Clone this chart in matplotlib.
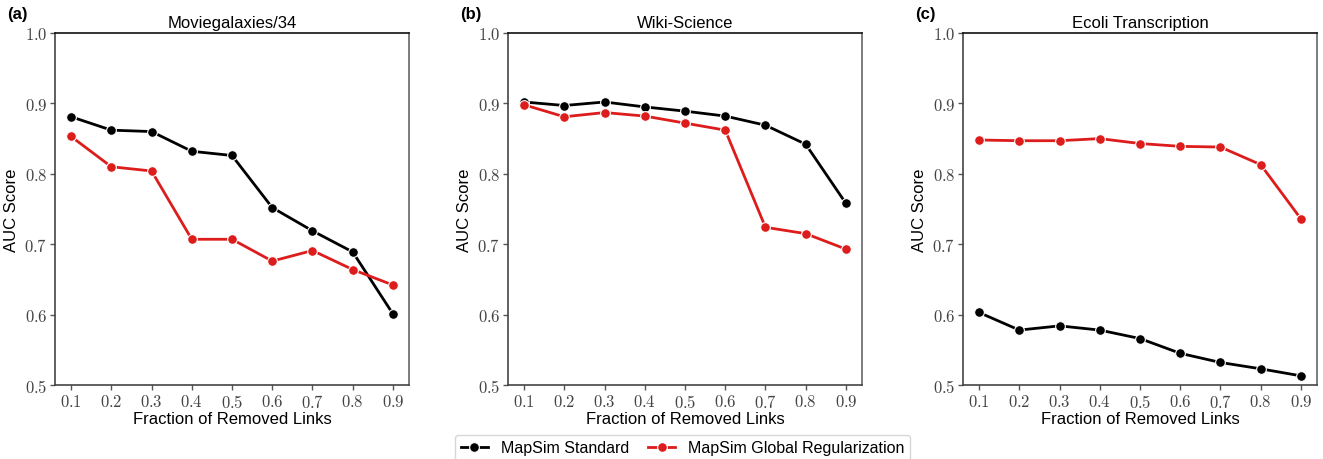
import numpy as np
import matplotlib
matplotlib.use("Agg")
import matplotlib.pyplot as plt

plt.rcParams['font.family'] = ['Liberation Sans', 'DejaVu Sans']
plt.rcParams['mathtext.fontset'] = 'cm'

fractions = [0.1, 0.2, 0.3, 0.4, 0.5, 0.6, 0.7, 0.8, 0.9]
titles = ["Moviegalaxies/34", "Wiki-Science", "Ecoli Transcription"]
panel_labels = ["(a)", "(b)", "(c)"]

standard_a = [0.881, 0.862, 0.860, 0.832, 0.826, 0.752, 0.719, 0.689, 0.601]
regular_a = [0.853, 0.810, 0.804, 0.707, 0.707, 0.676, 0.691, 0.664, 0.642]
standard_b = [0.902, 0.897, 0.902, 0.895, 0.889, 0.882, 0.869, 0.842, 0.758]
regular_b = [0.898, 0.881, 0.887, 0.882, 0.872, 0.862, 0.724, 0.715, 0.693]
standard_c = [0.603, 0.578, 0.584, 0.578, 0.566, 0.545, 0.532, 0.523, 0.513]
regular_c = [0.848, 0.847, 0.847, 0.850, 0.843, 0.839, 0.838, 0.813, 0.736]

standard = [standard_a, standard_b, standard_c]
regular = [regular_a, regular_b, regular_c]

black = '#000000'
red = '#dd1c1c'

fig = plt.figure(figsize=(13.23, 4.6), dpi=100)
lefts = [55, 508, 963]
W, H = 1323, 460
for i in range(3):
    ax = fig.add_axes([lefts[i] / W, 1 - 386 / H, 354 / W, 352 / H])
    l1, = ax.plot(fractions, standard[i], color=black, lw=2, marker='o', ms=7,
                  mec='white', mew=0.8, label='MapSim Standard')
    l2, = ax.plot(fractions, regular[i], color=red, lw=2, marker='o', ms=7,
                  mec='white', mew=0.8, label='MapSim Global Regularization')
    ax.set_ylim(0.5, 1.0)
    ax.set_xlim(0.06, 0.94)
    ax.set_xticks(fractions)
    ax.set_xticklabels([f"${v:.1f}$" for v in fractions], fontsize=12)
    yt = [0.5, 0.6, 0.7, 0.8, 0.9, 1.0]
    ax.set_yticks(yt)
    ax.set_yticklabels([f"${v:.1f}$" for v in yt], fontsize=12)
    ax.tick_params(length=3.5, width=1, color='#555555', labelcolor='#444444', pad=2)
    for s in ax.spines.values():
        s.set_color('#666666')
        s.set_linewidth(1.2)
    ax.spines['left'].set_color('#444444')
    ax.spines['bottom'].set_color('#444444')
    ax.spines['top'].set_color('#111111')
    ax.set_title(titles[i], fontsize=12, pad=4)
    ax.set_xlabel("Fraction of Removed Links", fontsize=12, labelpad=1)
    ax.set_ylabel("AUC Score", fontsize=12, labelpad=4)
    fig.text((lefts[i] - 48) / W, 1 - 15 / H, panel_labels[i], fontsize=12,
             fontweight='bold', ha='left', va='center')

fig.legend(handles=[l1, l2], loc='center', bbox_to_anchor=(0.516, 1 - 449 / H),
           ncol=2, fontsize=11.5, frameon=True, handlelength=1.7, columnspacing=1.2,
           borderpad=0.35, handletextpad=0.8)

fig.savefig("out.png", dpi=100)
